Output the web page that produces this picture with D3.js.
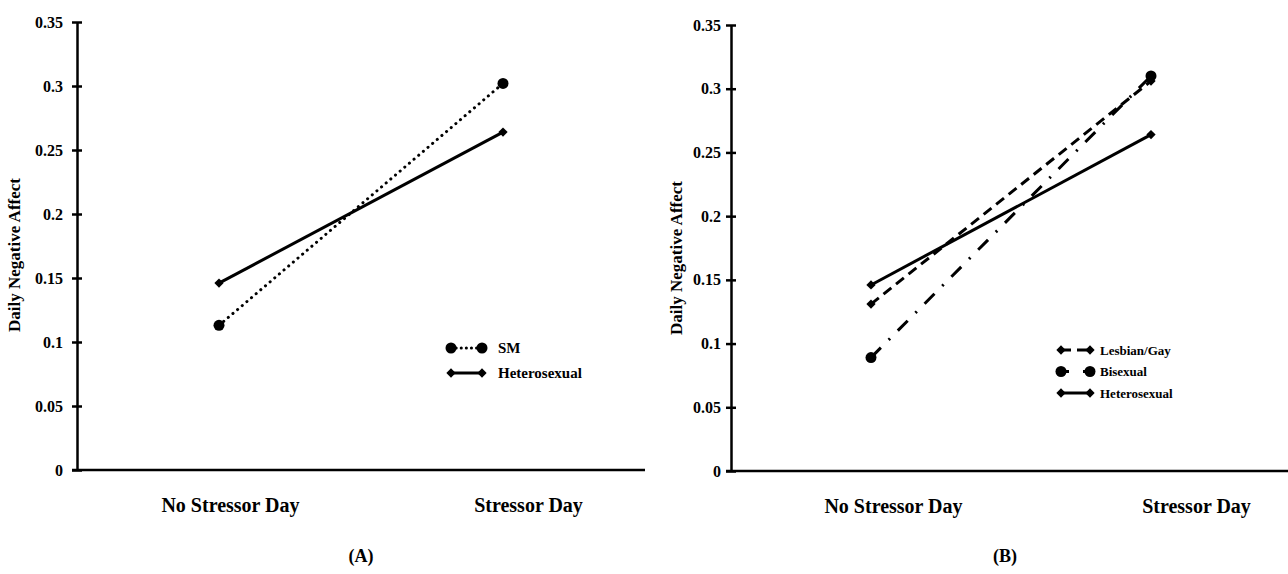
<!DOCTYPE html>
<html>
<head>
<meta charset="utf-8">
<script src="https://cdn.jsdelivr.net/npm/d3@7"></script>
<style>
  body { margin: 0; background: #fff; }
  svg text { font-family: "Liberation Serif", "Times New Roman", serif; font-weight: bold; fill: #000; }
</style>
</head>
<body>
<svg id="chart" width="1288" height="574"></svg>
<script>
var categories = ["No Stressor Day", "Stressor Day"];
var yTicks = [0, 0.05, 0.1, 0.15, 0.2, 0.25, 0.3, 0.35];
var yTickLabels = ["0", "0.05", "0.1", "0.15", "0.2", "0.25", "0.3", "0.35"];

// panel A
var smValues = [0.113, 0.302];
var heteroValuesA = [0.146, 0.264];
// panel B
var lesbianGayValues = [0.131, 0.306];
var bisexualValues = [0.089, 0.310];
var heteroValuesB = [0.146, 0.264];

var lineStyles = {
    dotted: { dash: "0.1 6", cap: "round", marker: "circle", legendDash: "0.1 5" },
    solid: { dash: null, cap: "butt", marker: "diamond", legendDash: null },
    dashed: { dash: "10 6", cap: "butt", marker: "diamond", legendDash: "10 6" },
    dashdot: { dash: "14 11 2 11", cap: "butt", marker: "circle", legendDash: "8 14" }
};

var svg = d3.select("#chart");

function drawMarker(g, type, x, y) {
    if (type === "circle") {
        g.append("circle").attr("cx", x).attr("cy", y).attr("r", 5.5).attr("fill", "#000");
    } else {
        g.append("path")
            .attr("d", d3.symbol().type(d3.symbolDiamond2).size(55)())
            .attr("transform", "translate(" + x + "," + y + ")")
            .attr("fill", "#000");
    }
}

function drawPanel(cfg) {
    var g = svg.append("g");

    var x = d3.scaleBand().domain(categories).range([cfg.left, cfg.right]);
    var xLabel = d3.scalePoint().domain(categories).range(cfg.labelRange);
    var y = d3.scaleLinear().domain([0, 0.35]).range([cfg.bottom, cfg.top]);

    // y axis
    var yAxis = g.append("g")
        .attr("transform", "translate(" + cfg.left + ",0)")
        .call(d3.axisLeft(y).tickValues(yTicks).tickSize(5).tickSizeOuter(0).tickPadding(cfg.tickPad)
            .tickFormat(function (d, i) { return yTickLabels[i]; }));
    yAxis.select(".domain").attr("stroke-width", 2.5);
    yAxis.selectAll(".tick line").attr("x1", -5).attr("x2", 5).attr("stroke-width", 2.5);
    yAxis.selectAll(".tick text").style("font-size", "16px");

    // x axis line
    g.append("line")
        .attr("x1", cfg.left - 5).attr("x2", cfg.right)
        .attr("y1", cfg.bottom).attr("y2", cfg.bottom)
        .attr("stroke", "#000").attr("stroke-width", 2.5);

    var xAxis = g.append("g")
        .attr("transform", "translate(0," + (cfg.bottom + 28) + ")")
        .call(d3.axisBottom(xLabel).tickSize(0).tickPadding(0));
    xAxis.select(".domain").remove();
    xAxis.selectAll(".tick text").style("font-size", "20px");

    // axis title
    g.append("text")
        .attr("transform", "translate(" + cfg.titleX + "," + cfg.titleY + ") rotate(-90)")
        .attr("text-anchor", "middle")
        .style("font-size", "17px")
        .text("Daily Negative Affect");

    // panel caption
    g.append("text")
        .attr("x", cfg.captionX).attr("y", 562)
        .attr("text-anchor", "middle")
        .style("font-size", "18px")
        .text(cfg.caption);

    var line = d3.line()
        .x(function (d, i) { return x(categories[i]) + x.bandwidth() / 2; })
        .y(function (d) { return y(d); });

    cfg.series.forEach(function (s) {
        var st = lineStyles[s.style];
        g.append("path")
            .datum(s.values)
            .attr("d", line)
            .attr("fill", "none")
            .attr("stroke", "#000")
            .attr("stroke-width", 3)
            .attr("stroke-linecap", st.cap)
            .attr("stroke-dasharray", st.dash);
        s.values.forEach(function (v, i) {
            drawMarker(g, st.marker, x(categories[i]) + x.bandwidth() / 2, y(v));
        });
    });

    // legend
    cfg.series.forEach(function (s, i) {
        var st = lineStyles[s.style];
        var ly = cfg.legendY + i * cfg.legendGap;
        var lx = cfg.legendX;
        g.append("line")
            .attr("x1", lx).attr("x2", lx + cfg.legendLen)
            .attr("y1", ly).attr("y2", ly)
            .attr("stroke", "#000").attr("stroke-width", 3)
            .attr("stroke-linecap", st.cap)
            .attr("stroke-dasharray", st.legendDash);
        drawMarker(g, st.marker, lx, ly);
        drawMarker(g, st.marker, lx + cfg.legendLen, ly);
        g.append("text")
            .attr("x", lx + cfg.legendLen + cfg.legendPad).attr("y", ly)
            .attr("dy", "0.35em")
            .style("font-size", cfg.legendFont)
            .text(s.name);
    });
}

drawPanel({
    left: 77, right: 645, top: 22, bottom: 470, titleX: 20, titleY: 255, tickPad: 9,
    labelRange: [230, 528],
    caption: "(A)", captionX: 361,
    legendX: 451, legendY: 348, legendGap: 25, legendLen: 31, legendPad: 16, legendFont: "15px",
    series: [
        { name: "SM", values: smValues, style: "dotted" },
        { name: "Heterosexual", values: heteroValuesA, style: "solid" }
    ]
});

drawPanel({
    left: 731, right: 1291, top: 25, bottom: 471, titleX: 682, titleY: 258, tickPad: 5,
    labelRange: [893, 1196],
    caption: "(B)", captionX: 1005,
    legendX: 1061, legendY: 350, legendGap: 21.5, legendLen: 29, legendPad: 10, legendFont: "13px",
    series: [
        { name: "Lesbian/Gay", values: lesbianGayValues, style: "dashed" },
        { name: "Bisexual", values: bisexualValues, style: "dashdot" },
        { name: "Heterosexual", values: heteroValuesB, style: "solid" }
    ]
});
</script>
</body>
</html>
